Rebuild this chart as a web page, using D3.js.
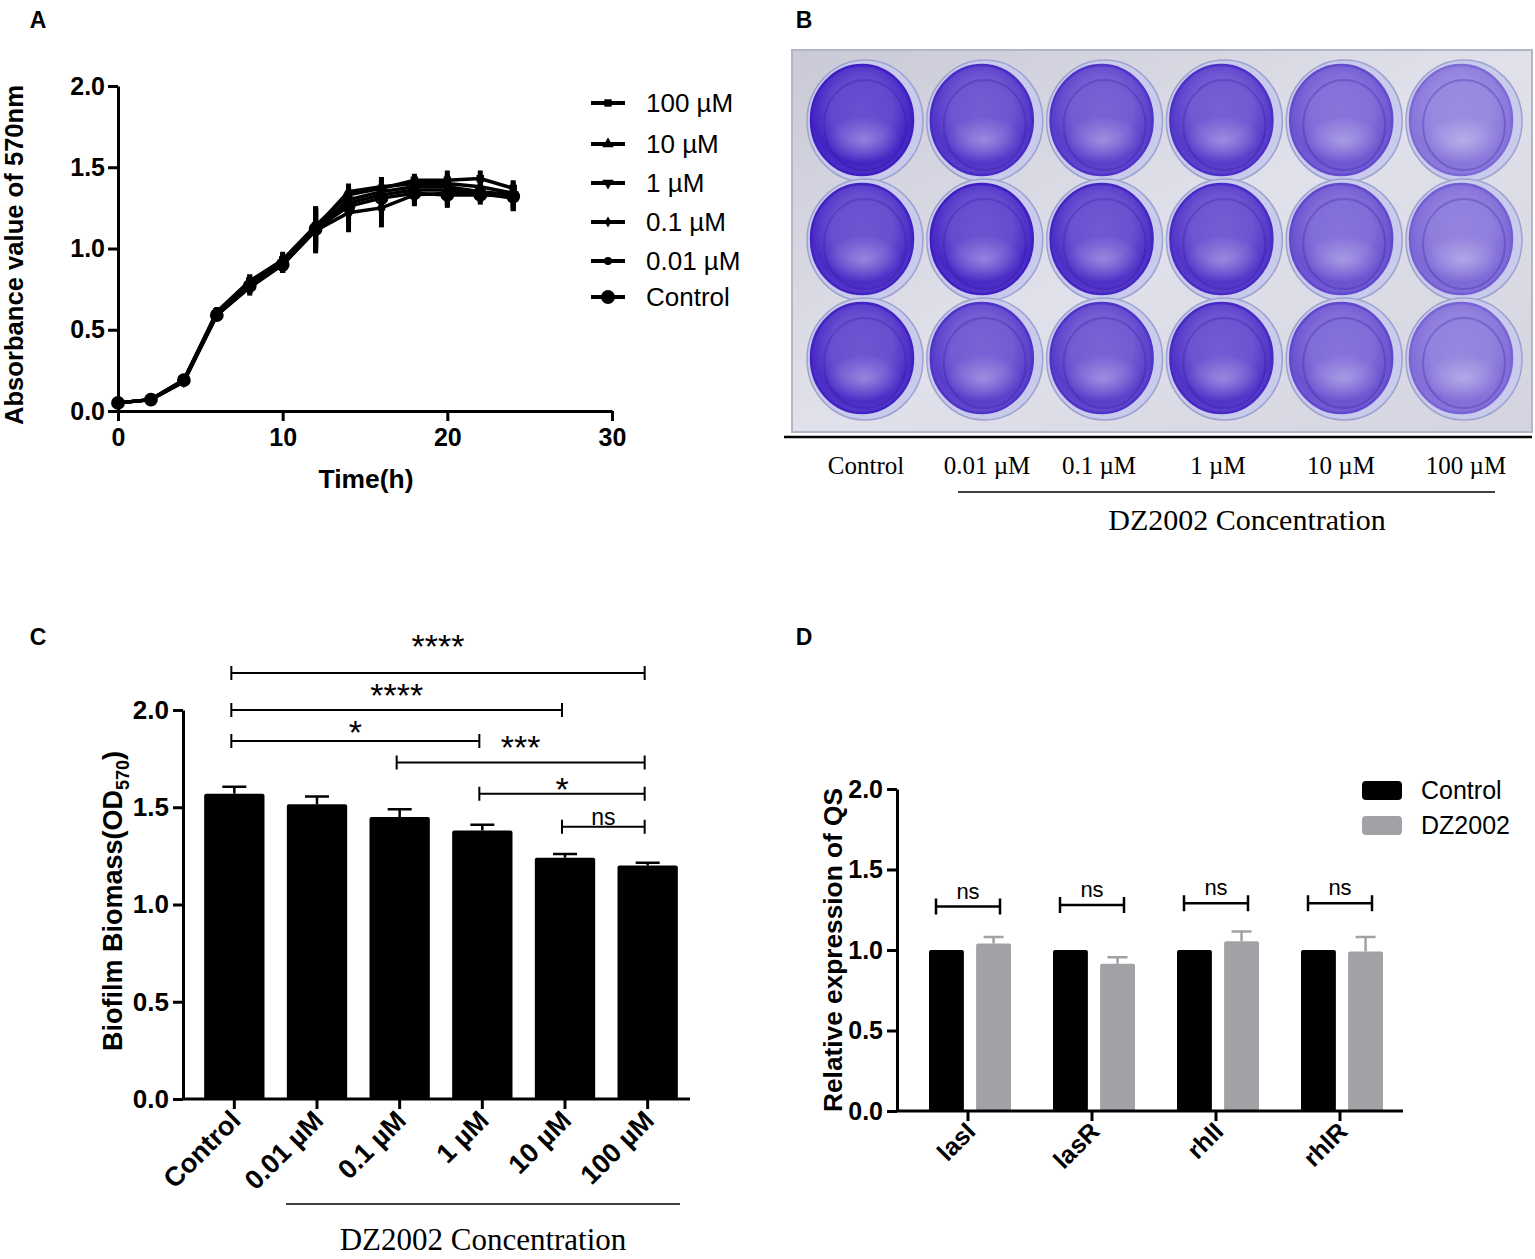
<!DOCTYPE html>
<html>
<head>
<meta charset="utf-8">
<script src="https://cdn.jsdelivr.net/npm/d3@7"></script>
<style>
  body { margin: 0; background: #fff; }
</style>
</head>
<body>
<div id="fig"></div>
<script>
// ---------- data ----------
// panel A: growth curves
const timeH = [0, 2, 4, 6, 8, 10, 12, 14, 16, 18, 20, 22, 24];
const seriesNames = ["100 µM", "10 µM", "1 µM", "0.1 µM", "0.01 µM", "Control"];
const growth = [
  [0.05, 0.07, 0.19, 0.61, 0.80, 0.93, 1.14, 1.33, 1.37, 1.42, 1.42, 1.43, 1.37],
  [0.05, 0.07, 0.19, 0.60, 0.79, 0.92, 1.13, 1.35, 1.38, 1.40, 1.40, 1.38, 1.34],
  [0.05, 0.07, 0.18, 0.59, 0.77, 0.91, 1.12, 1.30, 1.35, 1.38, 1.38, 1.35, 1.33],
  [0.05, 0.07, 0.18, 0.60, 0.78, 0.90, 1.12, 1.28, 1.33, 1.36, 1.36, 1.34, 1.32],
  [0.05, 0.07, 0.19, 0.59, 0.76, 0.90, 1.11, 1.22, 1.25, 1.33, 1.34, 1.34, 1.31],
  [0.05, 0.07, 0.19, 0.59, 0.77, 0.90, 1.12, 1.26, 1.31, 1.34, 1.33, 1.33, 1.32]
];
const growthErr = [
  [0.01, 0.01, 0.02, 0.03, 0.04, 0.05, 0.12, 0.06, 0.07, 0.04, 0.06, 0.05, 0.05],
  [0.01, 0.01, 0.02, 0.03, 0.05, 0.05, 0.10, 0.05, 0.06, 0.05, 0.06, 0.04, 0.05],
  [0.01, 0.01, 0.02, 0.03, 0.05, 0.04, 0.12, 0.08, 0.08, 0.06, 0.07, 0.05, 0.06],
  [0.01, 0.01, 0.02, 0.03, 0.04, 0.05, 0.14, 0.10, 0.09, 0.06, 0.07, 0.05, 0.07],
  [0.01, 0.01, 0.02, 0.03, 0.05, 0.05, 0.14, 0.12, 0.12, 0.07, 0.08, 0.05, 0.08],
  [0.01, 0.01, 0.02, 0.03, 0.05, 0.05, 0.13, 0.10, 0.10, 0.07, 0.08, 0.06, 0.09]
];
const growthTicksX = [0, 10, 20, 30];
const valueTicks = [0, 0.5, 1.0, 1.5, 2.0];

// panel B: stained plate (relative stain intensity per well, rows x columns)
const plateLabels = ["Control", "0.01 µM", "0.1 µM", "1 µM", "10 µM", "100 µM"];
const stainRows = [
  [0.95, 0.85, 0.80, 0.82, 0.66, 0.48],
  [0.90, 0.92, 0.88, 0.85, 0.68, 0.55],
  [0.90, 0.80, 0.80, 0.86, 0.68, 0.52]
];

// panel C: biofilm biomass
const concCats = ["Control", "0.01 µM", "0.1 µM", "1 µM", "10 µM", "100 µM"];
const biomass = [1.57, 1.515, 1.45, 1.38, 1.24, 1.20];
const biomassErr = [0.035, 0.04, 0.04, 0.03, 0.02, 0.015];
const sigFrom = [0, 0, 0, 2, 3, 4];
const sigTo = [5, 4, 3, 5, 5, 5];
const sigLevel = [2.19, 2.0, 1.84, 1.73, 1.57, 1.40];
const sigLabel = ["****", "****", "*", "***", "*", "ns"];

// panel D: QS gene expression
const genes = ["lasI", "lasR", "rhlI", "rhlR"];
const groupsD = ["Control", "DZ2002"];
const exprControl = [1.0, 1.0, 1.0, 1.0];
const exprDZ = [1.04, 0.915, 1.055, 0.99];
const exprDZErr = [0.04, 0.04, 0.06, 0.09];
const nsLevel = [1.27, 1.28, 1.29, 1.29];

// ---------- setup ----------
const width = 1535, height = 1259;
const SANS = "Liberation Sans, Arial, sans-serif";
const SERIF = "Liberation Serif, Times New Roman, serif";
const svg = d3.select("#fig").append("svg")
  .attr("width", width)
  .attr("height", height)
  .attr("font-family", SANS);
const defs = svg.append("defs");

function styleAxis(g, fs) {
  g.attr("font-family", SANS).attr("font-size", fs).attr("font-weight", "bold");
  g.select(".domain").attr("stroke-width", 3);
  g.selectAll(".tick line").attr("stroke-width", 3);
  g.selectAll(".tick text").attr("fill", "#000");
}

// panel letters
[["A", 38, 28], ["B", 804, 28], ["C", 38, 645], ["D", 804, 645]].forEach(([t, x, y]) => {
  svg.append("text").attr("x", x).attr("y", y).attr("text-anchor", "middle")
    .attr("font-size", 23).attr("font-weight", "bold").text(t);
});

// ---------- panel A ----------
{
  const x = d3.scaleLinear().domain([0, 30]).range([118, 612]);
  const y = d3.scaleLinear().domain([0, 2]).range([411, 86]);

  svg.append("g").attr("transform", "translate(118,0)")
    .call(d3.axisLeft(y).tickValues(valueTicks).tickFormat(d3.format(".1f")).tickSize(10).tickSizeOuter(0).tickPadding(3))
    .call(g => styleAxis(g, 25));
  svg.append("g").attr("transform", "translate(0,411)")
    .call(d3.axisBottom(x).tickValues(growthTicksX).tickSize(10).tickSizeOuter(0).tickPadding(7))
    .call(g => styleAxis(g, 25));

  svg.append("text").attr("transform", "translate(23,255) rotate(-90)")
    .attr("text-anchor", "middle").attr("font-size", 26).attr("font-weight", "bold")
    .attr("textLength", 340).attr("lengthAdjust", "spacingAndGlyphs")
    .text("Absorbance value of 570nm");
  svg.append("text").attr("x", 366).attr("y", 488).attr("text-anchor", "middle")
    .attr("font-size", 26).attr("font-weight", "bold")
    .attr("textLength", 95).attr("lengthAdjust", "spacingAndGlyphs").text("Time(h)");

  const symbols = [
    d3.symbol().type(d3.symbolSquare).size(55),
    d3.symbol().type(d3.symbolTriangle).size(55),
    d3.symbol().type(d3.symbolTriangle).size(55),
    d3.symbol().type(d3.symbolDiamond).size(35),
    d3.symbol().type(d3.symbolCircle).size(50),
    d3.symbol().type(d3.symbolCircle).size(150)
  ];
  const rot = [0, 0, 180, 0, 0, 0];

  const line = d3.line().x((d, i) => x(timeH[i])).y(d => y(d));
  const gA = svg.append("g");
  growth.forEach((vals, s) => {
    gA.append("path").datum(vals).attr("d", line)
      .attr("fill", "none").attr("stroke", "#000").attr("stroke-width", 3.5);
  });
  growth.forEach((vals, s) => {
    gA.append("g").selectAll("line").data(vals).join("line")
      .attr("x1", (d, i) => x(timeH[i])).attr("x2", (d, i) => x(timeH[i]))
      .attr("y1", (d, i) => y(d - growthErr[s][i])).attr("y2", (d, i) => y(d + growthErr[s][i]))
      .attr("stroke", "#000").attr("stroke-width", 5);
    gA.append("g").selectAll("path").data(vals).join("path")
      .attr("d", symbols[s])
      .attr("transform", (d, i) => `translate(${x(timeH[i])},${y(d)}) rotate(${rot[s]})`)
      .attr("fill", "#000");
  });

  // legend
  const legY = [103, 144, 183, 222, 261, 297];
  const leg = svg.append("g");
  seriesNames.forEach((name, s) => {
    leg.append("line").attr("x1", 591).attr("x2", 625).attr("y1", legY[s]).attr("y2", legY[s])
      .attr("stroke", "#000").attr("stroke-width", 4);
    leg.append("path").attr("d", symbols[s])
      .attr("transform", `translate(608,${legY[s]}) rotate(${rot[s]})`).attr("fill", "#000");
    leg.append("text").attr("x", 646).attr("y", legY[s] + 9).attr("font-size", 26)
      .text(name);
  });
}

// ---------- panel B ----------
{
  const colX = d3.scalePoint().domain(d3.range(6)).range([862, 1461]);
  const rowY = d3.scalePoint().domain(d3.range(3)).range([120, 358]);

  const plateGrad = defs.append("linearGradient").attr("id", "plateBg")
    .attr("x1", 0).attr("y1", 0).attr("x2", 1).attr("y2", 1);
  plateGrad.append("stop").attr("offset", 0).attr("stop-color", "#c9cad6");
  plateGrad.append("stop").attr("offset", 0.5).attr("stop-color", "#e0e1ea");
  plateGrad.append("stop").attr("offset", 1).attr("stop-color", "#d3d4df");

  svg.append("rect").attr("x", 792).attr("y", 50).attr("width", 740).attr("height", 382)
    .attr("fill", "url(#plateBg)").attr("stroke", "#b4b6c8").attr("stroke-width", 2);

  // lighter patch used to mimic uneven staining
  const patch = defs.append("radialGradient").attr("id", "patch")
    .attr("cx", "50%").attr("cy", "50%").attr("r", "50%");
  patch.append("stop").attr("offset", 0).attr("stop-color", "#ffffff").attr("stop-opacity", 0.3);
  patch.append("stop").attr("offset", 1).attr("stop-color", "#ffffff").attr("stop-opacity", 0);

  const light = d3.interpolateRgb("#cfc9f2", "#3f1fc2");
  const wells = svg.append("g");
  stainRows.forEach((row, r) => {
    row.forEach((t, c) => {
      const id = `well-${r}-${c}`;
      const gr = defs.append("radialGradient").attr("id", id)
        .attr("cx", "50%").attr("cy", "40%").attr("r", "60%");
      gr.append("stop").attr("offset", 0).attr("stop-color", light(t * 0.75));
      gr.append("stop").attr("offset", 0.5).attr("stop-color", light(t * 0.8));
      gr.append("stop").attr("offset", 0.82).attr("stop-color", light(Math.min(1, t * 1.03)));
      gr.append("stop").attr("offset", 1).attr("stop-color", light(Math.min(1, t * 0.95)));
      const cx = colX(c), cy = rowY(r);
      wells.append("ellipse").attr("cx", cx + 3).attr("cy", cy + 1).attr("rx", 58).attr("ry", 61)
        .attr("fill", "#c8cbec").attr("stroke", "#9ea2cf").attr("stroke-width", 1.5);
      wells.append("ellipse").attr("cx", cx).attr("cy", cy).attr("rx", 51).attr("ry", 55)
        .attr("fill", `url(#${id})`).attr("stroke", light(Math.min(1, t + 0.08))).attr("stroke-width", 2.5);
      wells.append("ellipse").attr("cx", cx + 2).attr("cy", cy + 20).attr("rx", 38).attr("ry", 24)
        .attr("fill", "url(#patch)");
      wells.append("ellipse").attr("cx", cx + 3).attr("cy", cy + 5).attr("rx", 41).attr("ry", 45)
        .attr("fill", "none").attr("stroke", "rgba(40,20,150,0.25)").attr("stroke-width", 2);
    });
  });

  svg.append("line").attr("x1", 784).attr("x2", 1532).attr("y1", 437).attr("y2", 437)
    .attr("stroke", "#000").attr("stroke-width", 2.5);
  const labX = [866, 987, 1099, 1218, 1341, 1466];
  plateLabels.forEach((t, i) => {
    svg.append("text").attr("x", labX[i]).attr("y", 474).attr("text-anchor", "middle")
      .attr("font-family", SERIF).attr("font-size", 25).text(t);
  });
  svg.append("line").attr("x1", 958).attr("x2", 1495).attr("y1", 492).attr("y2", 492)
    .attr("stroke", "#000").attr("stroke-width", 1.5);
  svg.append("text").attr("x", 1247).attr("y", 530).attr("text-anchor", "middle")
    .attr("font-family", SERIF).attr("font-size", 30).text("DZ2002 Concentration");
}

// ---------- panel C ----------
{
  const x = d3.scaleBand().domain(concCats).range([193, 689]);
  const y = d3.scaleLinear().domain([0, 2]).range([1099, 710]);
  const bw = x.bandwidth() * 0.73;
  const cx = d => x(d) + x.bandwidth() / 2;

  svg.append("g").selectAll("rect").data(biomass).join("rect")
    .attr("x", (d, i) => cx(concCats[i]) - bw / 2).attr("width", bw)
    .attr("y", d => y(d)).attr("height", d => y(0) - y(d))
    .attr("fill", "#000").attr("rx", 2);
  svg.append("g").selectAll("path").data(biomass).join("path")
    .attr("d", (d, i) => {
      const xc = cx(concCats[i]), yt = y(d + biomassErr[i]);
      return `M${xc},${y(d)}V${yt}M${xc - 12},${yt}H${xc + 12}`;
    })
    .attr("stroke", "#000").attr("stroke-width", 2.5).attr("fill", "none");

  svg.append("g").attr("transform", "translate(183,0)")
    .call(d3.axisLeft(y).tickValues(valueTicks).tickFormat(d3.format(".1f")).tickSize(10).tickSizeOuter(0).tickPadding(4))
    .call(g => styleAxis(g, 26));
  const xa = svg.append("g").attr("transform", "translate(0,1099)")
    .call(d3.axisBottom(x).tickSize(10).tickSizeOuter(0).tickFormat(""))
    .call(g => styleAxis(g, 26));
  xa.select(".domain").attr("d", "M183,0H690");

  svg.append("g").selectAll("text").data(concCats).join("text")
    .attr("transform", d => `translate(${cx(d) + 8},${1122}) rotate(-45)`)
    .attr("text-anchor", "end").attr("font-size", 27).attr("font-weight", "bold")
    .text(d => d);

  const ylab = svg.append("text").attr("transform", "translate(122,901) rotate(-90)")
    .attr("text-anchor", "middle").attr("font-size", 27).attr("font-weight", "bold");
  ylab.append("tspan").text("Biofilm Biomass(OD");
  ylab.append("tspan").attr("font-size", 18).attr("dy", 7).text("570");
  ylab.append("tspan").attr("dy", -7).text(")");

  // significance brackets; label gap above each bracket line (px)
  const labelGap = [27, 15, 9, 16, 5, 8];
  const sig = svg.append("g");
  sigLabel.forEach((lab, k) => {
    const x1 = cx(concCats[sigFrom[k]]) - 3, x2 = cx(concCats[sigTo[k]]) - 3, yy = y(sigLevel[k]);
    sig.append("path")
      .attr("d", `M${x1},${yy - 7}V${yy + 7}M${x1},${yy}H${x2}M${x2},${yy - 7}V${yy + 7}`)
      .attr("stroke", "#000").attr("stroke-width", 2).attr("fill", "none");
    const textCentre = yy - labelGap[k];
    sig.append("text").attr("x", (x1 + x2) / 2)
      .attr("y", lab === "ns" ? textCentre + 6 : textCentre + 12)
      .attr("text-anchor", "middle").attr("font-size", lab === "ns" ? 23 : 34)
      .text(lab);
  });

  svg.append("line").attr("x1", 286).attr("x2", 680).attr("y1", 1204).attr("y2", 1204)
    .attr("stroke", "#000").attr("stroke-width", 1.5);
  svg.append("text").attr("x", 483).attr("y", 1250).attr("text-anchor", "middle")
    .attr("font-family", SERIF).attr("font-size", 31).text("DZ2002 Concentration");
}

// ---------- panel D ----------
{
  const x0 = d3.scaleBand().domain(genes).range([906, 1402]);
  const x1 = d3.scaleBand().domain(groupsD).range([0, 82]).paddingInner(0.26);
  const y = d3.scaleLinear().domain([0, 2]).range([1111, 789]);
  const colour = d3.scaleOrdinal().domain(groupsD).range(["#000000", "#a2a2a6"]);
  const gc = g => x0(g) + x0.bandwidth() / 2;
  const vals = [exprControl, exprDZ];

  const bars = svg.append("g");
  groupsD.forEach((grp, k) => {
    bars.append("g").selectAll("rect").data(vals[k]).join("rect")
      .attr("x", (d, i) => gc(genes[i]) - 39 + x1(grp)).attr("width", x1.bandwidth())
      .attr("y", d => y(d)).attr("height", d => y(0) - y(d))
      .attr("fill", colour(grp)).attr("rx", 2);
  });
  bars.append("g").selectAll("path").data(exprDZ).join("path")
    .attr("d", (d, i) => {
      const xc = gc(genes[i]) - 39 + x1("DZ2002") + x1.bandwidth() / 2, yt = y(d + exprDZErr[i]);
      return `M${xc},${y(d)}V${yt}M${xc - 10},${yt}H${xc + 10}`;
    })
    .attr("stroke", "#a2a2a6").attr("stroke-width", 2.5).attr("fill", "none");

  svg.append("g").attr("transform", "translate(897,0)")
    .call(d3.axisLeft(y).tickValues(valueTicks).tickFormat(d3.format(".1f")).tickSize(10).tickSizeOuter(0).tickPadding(4))
    .call(g => styleAxis(g, 25));
  const xa = svg.append("g").attr("transform", "translate(0,1111)")
    .call(d3.axisBottom(x0).tickSize(10).tickSizeOuter(0).tickFormat(""))
    .call(g => styleAxis(g, 25));
  xa.select(".domain").attr("d", "M897,0H1403");

  svg.append("g").selectAll("text").data(genes).join("text")
    .attr("transform", d => `translate(${gc(d) + 9},${1133}) rotate(-45)`)
    .attr("text-anchor", "end").attr("font-size", 25).attr("font-weight", "bold")
    .text(d => d);

  svg.append("text").attr("transform", "translate(842,950) rotate(-90)")
    .attr("text-anchor", "middle").attr("font-size", 26).attr("font-weight", "bold")
    .attr("textLength", 324).attr("lengthAdjust", "spacingAndGlyphs")
    .text("Relative expression of QS");

  const ns = svg.append("g");
  genes.forEach((g, i) => {
    const xa1 = gc(g) - 32, xa2 = gc(g) + 32, yy = y(nsLevel[i]);
    ns.append("path")
      .attr("d", `M${xa1},${yy - 8}V${yy + 8}M${xa1},${yy}H${xa2}M${xa2},${yy - 8}V${yy + 8}`)
      .attr("stroke", "#000").attr("stroke-width", 2.5).attr("fill", "none");
    ns.append("text").attr("x", gc(g)).attr("y", yy - 8).attr("text-anchor", "middle")
      .attr("font-size", 22).text("ns");
  });

  // legend
  const legY = [790, 825];
  groupsD.forEach((grp, k) => {
    svg.append("rect").attr("x", 1362).attr("y", legY[k] - 9).attr("width", 40).attr("height", 19)
      .attr("rx", 4).attr("fill", colour(grp));
    svg.append("text").attr("x", 1421).attr("y", legY[k] + 9).attr("font-size", 25).text(grp);
  });
}
</script>
</body>
</html>
